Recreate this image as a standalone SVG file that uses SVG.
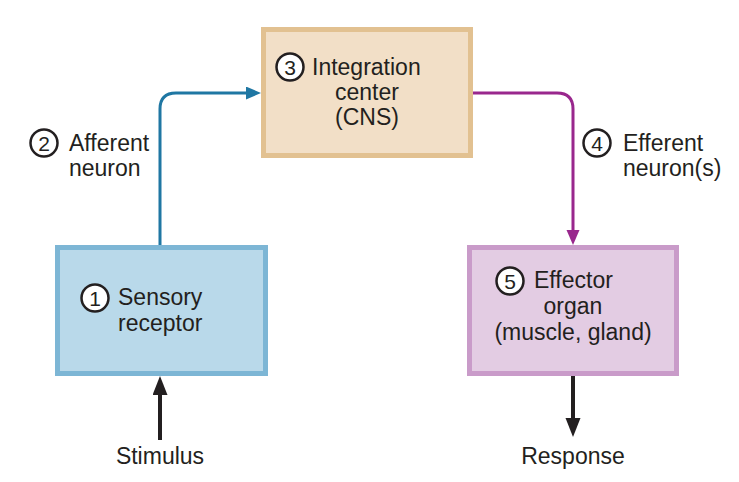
<svg xmlns="http://www.w3.org/2000/svg" width="739" height="482" viewBox="0 0 739 482">
<defs>
<style>
text{font-family:"Liberation Sans",Arial,sans-serif;font-size:23px;fill:#231f20}
.c{text-anchor:middle}
.num{fill:#fff;stroke:#231f20;stroke-width:2.5}
.nt{text-anchor:middle;font-size:21px}
</style>
<marker id="ab" markerUnits="userSpaceOnUse" markerWidth="16" markerHeight="14" refX="0" refY="6.5" orient="auto"><path d="M0,0 L15,6.5 L0,13 z" fill="#1f77a3"/></marker>
<marker id="ap" markerUnits="userSpaceOnUse" markerWidth="16" markerHeight="14" refX="0" refY="6.5" orient="auto"><path d="M0,0 L15,6.5 L0,13 z" fill="#99278d"/></marker>
<marker id="ak" markerUnits="userSpaceOnUse" markerWidth="20" markerHeight="16" refX="0" refY="7.5" orient="auto"><path d="M0,0 L19,7.5 L0,15 z" fill="#231f20"/></marker>
</defs>
<rect width="739" height="482" fill="#fff"/>
<g id="connectors" fill="none">
<path d="M160,245 V109 Q160,93 176,93 H246" stroke="#1f77a3" stroke-width="3" marker-end="url(#ab)"/>
<path d="M473,93 H557 Q573,93 573,109 V230" stroke="#99278d" stroke-width="3" marker-end="url(#ap)"/>
<path d="M160,440 V395" stroke="#231f20" stroke-width="4" marker-end="url(#ak)"/>
<path d="M573,376 V418" stroke="#231f20" stroke-width="4" marker-end="url(#ak)"/>
</g>
<g id="integration">
<rect x="263.5" y="29.5" width="207" height="126" fill="#f2dfc7" stroke="#e2c191" stroke-width="5"/>
<circle class="num" cx="290" cy="67" r="13.5"/>
<text class="nt" x="290" y="74.5">3</text>
<text x="312" y="75">Integration</text>
<text class="c" x="367" y="100">center</text>
<text class="c" x="367" y="125">(CNS)</text>
</g>
<g id="sensory">
<rect x="57.5" y="247.5" width="208" height="126" fill="#b9d9ea" stroke="#7db6d5" stroke-width="5"/>
<circle class="num" cx="95" cy="298" r="13.5"/>
<text class="nt" x="95" y="305.5">1</text>
<text x="118" y="305">Sensory</text>
<text x="118" y="331">receptor</text>
</g>
<g id="effector">
<rect x="469.5" y="247.5" width="207" height="126" fill="#e3cce3" stroke="#c99bc9" stroke-width="5"/>
<circle class="num" cx="510" cy="281" r="13.5"/>
<text class="nt" x="510" y="288.5">5</text>
<text x="534" y="288">Effector</text>
<text class="c" x="573" y="314">organ</text>
<text class="c" x="573" y="340">(muscle, gland)</text>
</g>
<g id="afferent-label">
<circle class="num" cx="44" cy="143" r="13.5"/>
<text class="nt" x="44" y="150.5">2</text>
<text x="69" y="151">Afferent</text>
<text x="69" y="176">neuron</text>
</g>
<g id="efferent-label">
<circle class="num" cx="597" cy="143" r="13.5"/>
<text class="nt" x="597" y="150.5">4</text>
<text x="623" y="151">Efferent</text>
<text x="623" y="176">neuron(s)</text>
</g>
<g id="stimulus"><text class="c" x="160" y="464">Stimulus</text></g>
<g id="response"><text class="c" x="573" y="464">Response</text></g>
</svg>
